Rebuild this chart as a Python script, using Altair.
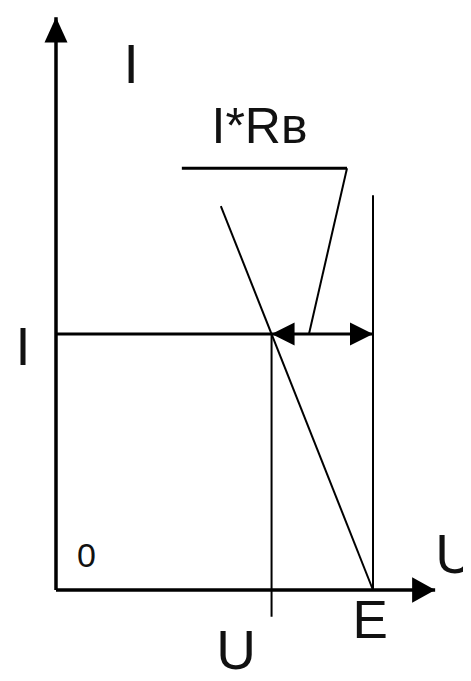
import altair as alt
import pandas as pd

# ---- diagram values (U along x, I along y) ----
E = 10.0        # source EMF on the U axis
U_op = 6.8      # operating voltage
I_op = 4.0      # operating current

# line segments: start (u, i) -> end (u2, i2)
seg_name = ["axis_I", "axis_U", "I_level", "U_drop", "E_line", "load_line", "leader_h", "leader_d"]
seg_u = [0.0, 0.0, 0.0, U_op, E, 5.2, 3.97, 9.18]
seg_i = [0.0, 0.0, I_op, I_op, 0.0, 6.0, 6.59, 6.59]
seg_u2 = [0.0, 11.96, E, U_op, E, E, 9.18, 7.98]
seg_i2 = [8.95, 0.0, I_op, -0.42, 6.17, 0.0, 6.59, I_op]

# arrow tips
tip_name = ["up", "right_axis", "left_dim", "right_dim"]
tip_u = [0.0, 11.96, U_op, E]
tip_i = [8.95, 0.0, I_op, I_op]

# labels
lab_name = ["I_axis", "I_level", "IR", "zero", "U_axis", "E", "U_op"]
lab_text = ["I", "I", "I*Rв", "0", "U", "E", "U"]
lab_u = [2.37, -1.04, 6.42, 0.96, 12.59, 9.91, 5.68]
lab_i = [7.92, 3.52, 6.98, 0.36, 0.27, -0.75, -1.24]

# ---- styles (kept apart from the values) ----
seg_width = {"axis_I": 3.5, "axis_U": 3.5, "I_level": 3, "U_drop": 2, "E_line": 2,
             "load_line": 2, "leader_h": 3, "leader_d": 2}
tip_shape = {"up": "M0,0L-1,2.2L1,2.2Z", "right_axis": "M0,0L-2,-1.1L-2,1.1Z",
             "left_dim": "M0,0L2,-1L2,1Z", "right_dim": "M0,0L-2,-1L-2,1Z"}
lab_size = {"I_axis": 55, "I_level": 54, "IR": 50, "zero": 34, "U_axis": 55, "E": 53, "U_op": 55}

segs = pd.DataFrame({"name": seg_name, "u": seg_u, "i": seg_i, "u2": seg_u2, "i2": seg_i2})
segs["w"] = segs["name"].map(seg_width)
tips = pd.DataFrame({"name": tip_name, "u": tip_u, "i": tip_i})
tips["shape"] = tips["name"].map(tip_shape)
labs = pd.DataFrame({"name": lab_name, "text": lab_text, "u": lab_u, "i": lab_i})
labs["fs"] = labs["name"].map(lab_size)

xs = alt.Scale(domain=[-1.514, 12.839], nice=False, zero=False)
ys = alt.Scale(domain=[-1.297, 9.094], nice=False, zero=False)

lines = alt.Chart(segs).mark_rule(color="black", strokeCap="butt").encode(
    x=alt.X("u:Q", scale=xs, axis=None),
    y=alt.Y("i:Q", scale=ys, axis=None),
    x2="u2:Q",
    y2="i2:Q",
    strokeWidth=alt.StrokeWidth("w:Q", scale=None, legend=None),
)

heads = alt.Chart(tips).mark_point(filled=True, color="black", opacity=1, size=529, strokeWidth=0).encode(
    x=alt.X("u:Q", scale=xs, axis=None),
    y=alt.Y("i:Q", scale=ys, axis=None),
    shape=alt.Shape("shape:N", scale=None, legend=None),
)

texts = alt.Chart(labs).mark_text(font="Liberation Sans", color="#111111",
                                   align="center", baseline="alphabetic").encode(
    x=alt.X("u:Q", scale=xs, axis=None),
    y=alt.Y("i:Q", scale=ys, axis=None),
    text="text:N",
    size=alt.Size("fs:Q", scale=None, legend=None),
)

chart = alt.layer(lines, heads, texts).properties(
    width=455, height=665,
    autosize=alt.AutoSizeParams(type="none"),
    padding=0,
    background="white",
).configure_view(stroke=None)

chart.save("out.html", embed_options={"renderer": "svg", "actions": False})
